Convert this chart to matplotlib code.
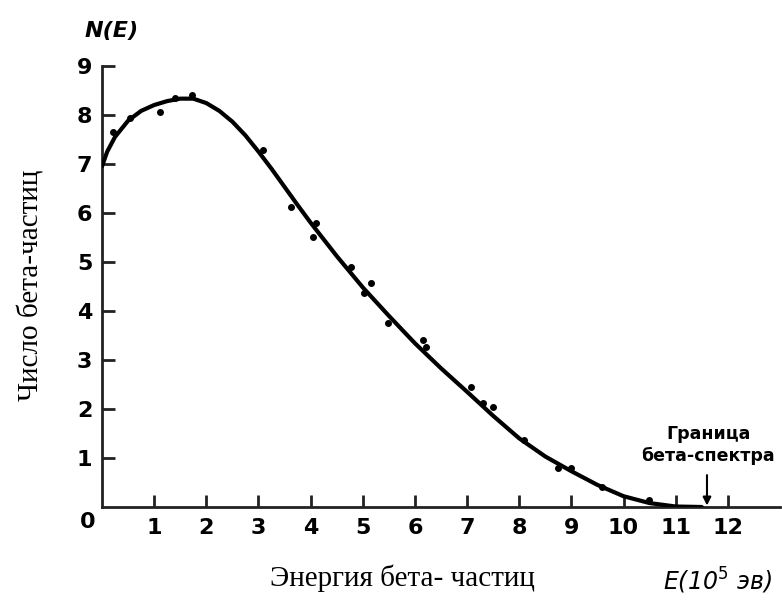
import matplotlib.pyplot as plt

# measured points (E in 10^5 eV, N(E))
pts_e = [0.21, 0.54, 1.12, 1.4, 1.73, 3.08, 3.62, 4.04, 4.1, 4.77, 5.02, 5.15, 5.48,
         6.15, 6.21, 7.08, 7.31, 7.5, 8.1, 8.75, 9.0, 9.58, 10.48]
pts_n = [7.65, 7.94, 8.06, 8.35, 8.4, 7.29, 6.12, 5.5, 5.8, 4.9, 4.37, 4.57, 3.75,
         3.41, 3.27, 2.45, 2.12, 2.04, 1.37, 0.8, 0.8, 0.41, 0.14]

# smooth curve
curve_e = [0, 0.1, 0.25, 0.5, 0.75, 1.0, 1.25, 1.5, 1.75, 2.0, 2.25, 2.5, 2.75, 3.0,
           3.25, 3.5, 3.75, 4.0, 4.5, 5.0, 5.5, 6.0, 6.5, 7.0, 7.5, 8.0, 8.5, 9.0,
           9.5, 10.0, 10.5, 11.0, 11.5]
curve_n = [6.95, 7.25, 7.55, 7.88, 8.08, 8.2, 8.28, 8.33, 8.33, 8.24, 8.08, 7.86, 7.58, 7.25,
           6.9, 6.53, 6.16, 5.8, 5.12, 4.48, 3.9, 3.34, 2.83, 2.35, 1.86, 1.4, 1.03, 0.73,
           0.45, 0.22, 0.08, 0.01, 0.0]

xticks = list(range(1, 13))
yticks = list(range(1, 10))

sans = ['DejaVu Sans']
tick_font = dict(family=sans, weight='bold', size=16)
serif = ['Liberation Serif', 'DejaVu Serif']

fig = plt.figure(figsize=(7.82, 6.03), dpi=100)
ax = fig.add_axes([102/782, 96/603, 678/782, 451/603])

ax.plot(curve_e, curve_n, color='black', lw=3, solid_capstyle='round', zorder=3)
ax.plot(pts_e, pts_n, 'o', color='black', ms=4, zorder=4)

ax.set_xlim(0, 13)
ax.set_ylim(0, 9.2)
ax.spines['top'].set_visible(False)
ax.spines['right'].set_visible(False)
ax.spines['left'].set_bounds(0, 9)
for s in ('left', 'bottom'):
    ax.spines[s].set_linewidth(2)
    ax.spines[s].set_color('#222222')

ax.set_xticks(xticks)
ax.set_yticks(yticks)
ax.set_xticklabels([str(v) for v in xticks], fontdict=tick_font)
ax.set_yticklabels([str(v) for v in yticks], fontdict=tick_font)
ax.tick_params(direction='in', length=9, width=2, color='#222222', pad=7)
ax.tick_params(axis='x', pad=8)

ax.text(-0.27, -0.3, '0', ha='center', va='center', clip_on=False, **tick_font)

ax.text(-0.33, 9.72, 'N(E)', ha='left', va='center', style='italic', clip_on=False,
        family=sans, weight='bold', size=16)
ax.text(11.8, -1.5, 'E(10$^5$ эв)', ha='center', va='center', style='italic',
        clip_on=False, family=sans, size=17)

# end of spectrum marker
ax.text(11.63, 1.27, 'Граница\nбета-спектра', ha='center', va='center',
        linespacing=1.3, family=sans, weight='bold', size=12.5, clip_on=False)
ax.annotate('', xy=(11.6, 0.03), xytext=(11.6, 0.65),
            arrowprops=dict(arrowstyle='-|>', color='black', lw=1.5,
                            mutation_scale=12, shrinkA=0, shrinkB=0))

fig.text(402/782, 1 - 578/603, 'Энергия бета- частиц', ha='center', va='center',
         family=serif, size=21)
fig.text(31/782, 1 - 285/603, 'Число бета-частиц', ha='center', va='center',
         rotation=90, family=serif, size=21)

plt.savefig('out.png', dpi=100)
